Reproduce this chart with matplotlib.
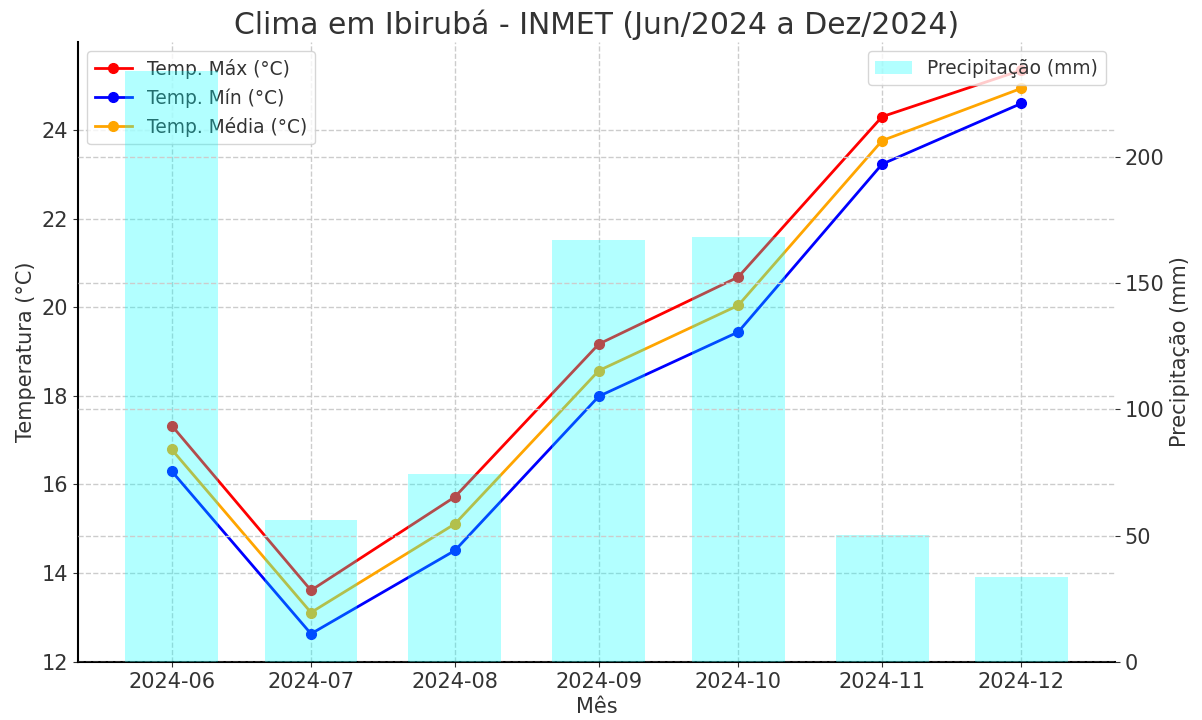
import matplotlib
matplotlib.use("Agg")
import matplotlib.pyplot as plt
import matplotlib.dates as mdates
import pandas as pd

# dados (INMET Ibiruba)
meses = ["2024-06", "2024-07", "2024-08", "2024-09", "2024-10", "2024-11", "2024-12"]
temp_max = [17.33, 13.61, 15.72, 19.17, 20.68, 24.30, 25.35]
temp_min = [16.30, 12.63, 14.51, 17.99, 19.44, 23.23, 24.60]
temp_media = [16.79, 13.11, 15.11, 18.57, 20.04, 23.76, 24.94]
precipitacao = [233.7, 56.2, 74.5, 167.0, 168.0, 50.3, 33.7]

datas = pd.to_datetime([m + "-01" for m in meses])

cor_texto = "#333333"
plt.rcParams["text.color"] = cor_texto
plt.rcParams["axes.labelcolor"] = cor_texto
plt.rcParams["xtick.color"] = cor_texto
plt.rcParams["ytick.color"] = cor_texto

fig, ax1 = plt.subplots(figsize=(12.02, 7.2), dpi=100)
fig.subplots_adjust(left=0.065, right=0.9276, top=0.9417, bottom=0.0806)

ax1.plot(datas, temp_max, color="red", marker="o", markersize=7, linewidth=2, label="Temp. Máx (°C)")
ax1.plot(datas, temp_min, color="blue", marker="o", markersize=7, linewidth=2, label="Temp. Mín (°C)")
ax1.plot(datas, temp_media, color="orange", marker="o", markersize=7, linewidth=2, label="Temp. Média (°C)")
ax1.set_ylabel("Temperatura (°C)", fontsize=15)
ax1.set_xlabel("Mês", fontsize=15)
ax1.grid(True, linestyle="--", color="#cccccc", linewidth=1)
ax1.legend(loc="upper left", fontsize=13.4)

ax2 = ax1.twinx()
ax2.bar(datas, precipitacao, width=20, color="cyan", alpha=0.3, label="Precipitação (mm)")
ax2.set_ylabel("Precipitação (mm)", fontsize=15)
ax2.grid(True, linestyle="--", color="#cccccc", linewidth=1)
ax2.legend(loc="upper right", fontsize=13.4)

for ax in (ax1, ax2):
    ax.spines["top"].set_visible(False)
    ax.spines["right"].set_visible(False)
    ax.tick_params(labelsize=15)
ax2.spines["left"].set_visible(False)
ax2.spines["bottom"].set_visible(False)
ax1.spines["left"].set_linewidth(1.5)
ax1.spines["bottom"].set_linewidth(1.5)

ax1.xaxis.set_major_locator(mdates.MonthLocator())
ax1.xaxis.set_major_formatter(mdates.DateFormatter("%Y-%m"))

ax1.set_title("Clima em Ibirubá - INMET (Jun/2024 a Dez/2024)", fontsize=21.5)

fig.savefig("out.png")
